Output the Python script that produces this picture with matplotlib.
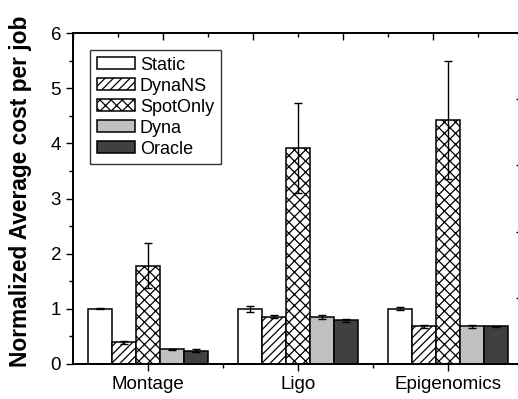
import numpy as np
import matplotlib.pyplot as plt
from matplotlib.ticker import MultipleLocator

plt.rcParams['font.family'] = ['Liberation Sans', 'DejaVu Sans']
plt.rcParams['hatch.linewidth'] = 0.9

# data
workflows = ['Montage', 'Ligo', 'Epigenomics']
methods = ['Static', 'DynaNS', 'SpotOnly', 'Dyna', 'Oracle']
means = {
    'Static':   [1.00, 1.00, 1.00],
    'DynaNS':   [0.39, 0.86, 0.68],
    'SpotOnly': [1.78, 3.92, 4.42],
    'Dyna':     [0.27, 0.85, 0.68],
    'Oracle':   [0.24, 0.79, 0.68],
}
errs = {
    'Static':   [0.01, 0.06, 0.03],
    'DynaNS':   [0.02, 0.02, 0.02],
    'SpotOnly': [0.41, 0.82, 1.07],
    'Dyna':     [0.01, 0.04, 0.02],
    'Oracle':   [0.03, 0.02, 0.01],
}

# styles
faces = {'Static': 'white', 'DynaNS': 'white', 'SpotOnly': 'white',
         'Dyna': '#c0c0c0', 'Oracle': '#404040'}
hatches = {'Static': None, 'DynaNS': '////', 'SpotOnly': 'xxx',
           'Dyna': None, 'Oracle': None}

fig = plt.figure(figsize=(5.18, 3.99), dpi=100)
ax = fig.add_axes([73/518, 35/399, 450/518, 331/399])

x = np.arange(1, len(workflows) + 1)
w = 0.16
for i, m in enumerate(methods):
    ax.bar(x + (i - 2) * w, means[m], w, color=faces[m], edgecolor='black',
           linewidth=1.1, hatch=hatches[m], label=m,
           yerr=errs[m], capsize=3,
           error_kw=dict(ecolor='black', elinewidth=1.0, capthick=1.0))

ax.set_xlim(0.5, 3.5)
ax.set_ylim(0, 6)
ax.set_xticks(x)
ax.set_xticklabels(workflows)
ax.xaxis.set_minor_locator(plt.FixedLocator([1.5, 2.5]))
ax.yaxis.set_major_locator(MultipleLocator(1))
ax.yaxis.set_minor_locator(MultipleLocator(0.5))
ax.tick_params(axis='both', which='major', direction='out', length=5,
               width=1, labelsize=13.5)
ax.tick_params(axis='both', which='minor', direction='out', length=3, width=1)
ax.set_ylabel('Normalized Average cost per job', fontsize=16.4,
              fontweight='bold')
ax.yaxis.set_label_coords(-0.091, 0.523)

# mirrored top/right axes
top = ax.twiny()
top.set_xlim(0, 5)
top.xaxis.set_major_locator(MultipleLocator(1))
top.xaxis.set_minor_locator(MultipleLocator(0.5))
top.tick_params(axis='x', which='major', direction='in', length=5, width=1,
                labeltop=False)
top.tick_params(axis='x', which='minor', direction='in', length=3, width=1)
right = ax.twinx()
right.set_ylim(0, 5)
right.yaxis.set_major_locator(MultipleLocator(1))
right.yaxis.set_minor_locator(MultipleLocator(0.5))
right.tick_params(axis='y', which='major', direction='in', length=5, width=1,
                  labelright=False)
right.tick_params(axis='y', which='minor', direction='in', length=3, width=1)

for a in (ax, top, right):
    for s in a.spines.values():
        s.set_linewidth(1.1)

leg = ax.legend(loc='upper left', bbox_to_anchor=(0.038, 0.949), fontsize=13,
                frameon=True, fancybox=False, edgecolor='black',
                handlelength=2.1, handleheight=0.65, labelspacing=0.22,
                borderpad=0.38, handletextpad=0.28, borderaxespad=0)
leg.get_frame().set_linewidth(1.0)

fig.savefig('out.png', dpi=100)
